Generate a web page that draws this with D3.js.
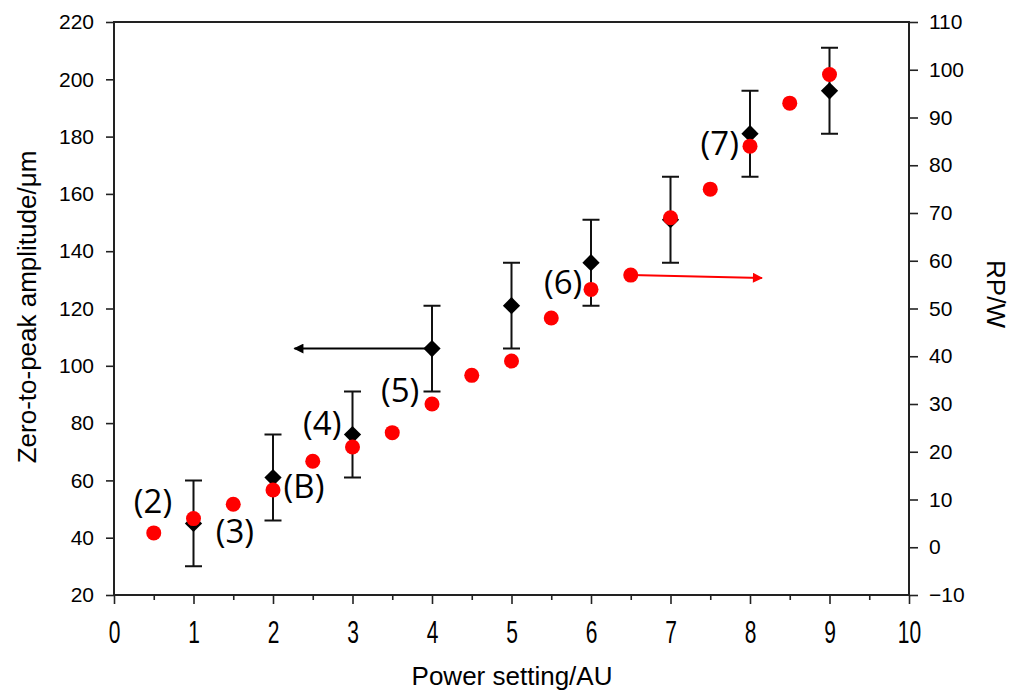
<!DOCTYPE html>
<html>
<head>
<meta charset="utf-8">
<script src="https://cdn.jsdelivr.net/npm/d3@7"></script>
<style>
    body{margin:0;background:#fff;}
    text{fill:#000;}
</style>
</head>
<body>
<div id="graphWrapper"></div>
<script>
//data
const POWER_BLACK = [1, 2, 3, 4, 5, 6, 7, 8, 9];
const AMPLITUDE = [45, 61, 76, 106, 121, 136, 151, 181, 196];
const AMPLITUDE_ERR = [15, 15, 15, 15, 15, 15, 15, 15, 15];

const POWER_RED = [0.5, 1, 1.5, 2, 2.5, 3, 3.5, 4, 4.5, 5, 5.5, 6, 6.5, 7, 7.5, 8, 8.5, 9];
const RPW = [3, 6, 9, 12, 18, 21, 24, 30, 36, 39, 48, 54, 57, 69, 75, 84, 93, 99];

const X_TICKS = [0, 1, 2, 3, 4, 5, 6, 7, 8, 9, 10];
const Y_LEFT_TICKS = [20, 40, 60, 80, 100, 120, 140, 160, 180, 200, 220];
const Y_RIGHT_TICKS = [-10, 0, 10, 20, 30, 40, 50, 60, 70, 80, 90, 100, 110];

//point labels, placed in data units of the left axis (baseline)
const LABEL_TEXT = ['(2)', '(3)', '(B)', '(4)', '(5)', '(6)', '(7)'];
const LABEL_X = [0.49, 1.52, 2.39, 2.62, 3.6, 5.65, 7.62];
const LABEL_Y = [48.6, 38.2, 53.9, 75.8, 87.4, 125.1, 173.6];

//arrows: black in left axis units, red in right axis units
const ARROW_BLACK = [[4, 106], [2.27, 106]];
const ARROW_RED = [[6.5, 57], [8.15, 56.4]];

const CONSTANTS = {
    WIDTH:1017,
    HEIGHT:695,
    LEFT:114,
    RIGHT:909,
    TOP:22,
    BOTTOM:595,
    TICK_FONT:'"Liberation Sans", Arial, sans-serif',
    LABEL_FONT:'"Open Sans", "Noto Sans", sans-serif'
};

function main(){
    let svg = d3.select('#graphWrapper')
        .append('svg')
        .attr('width',CONSTANTS.WIDTH)
        .attr('height',CONSTANTS.HEIGHT);

    let scales = buildScales();
    buildAxis(svg,scales);
    buildArrows(svg,scales);
    buildBlack(svg,scales);
    buildRed(svg,scales);
    buildLabels(svg,scales);
}

function buildScales(){
    let x = d3.scaleLinear().domain([0,10]).range([CONSTANTS.LEFT,CONSTANTS.RIGHT]);
    let yLeft = d3.scaleLinear().domain([20,220]).range([CONSTANTS.BOTTOM,CONSTANTS.TOP]);
    let yRight = d3.scaleLinear().domain([-10,110]).range([CONSTANTS.BOTTOM,CONSTANTS.TOP]);
    return {x:x,yLeft:yLeft,yRight:yRight};
}

function styleAxis(g){
    g.select('.domain').remove();
    g.selectAll('line').attr('stroke','#222').attr('stroke-width',1.6);
    g.selectAll('text')
        .style('font-family',CONSTANTS.TICK_FONT)
        .style('font-size','21px')
        .attr('fill','#000');
}

function buildAxis(svg,scales){
    //minor x ticks
    let minor = d3.range(0.5,10,1);
    svg.append('g')
        .attr('transform','translate(0,'+CONSTANTS.BOTTOM+')')
        .call(d3.axisBottom(scales.x).tickValues(minor).tickSize(5).tickFormat(''))
        .call(styleAxis);

    let xAxis = svg.append('g')
        .attr('id','x-axis')
        .attr('transform','translate(0,'+CONSTANTS.BOTTOM+')')
        .call(d3.axisBottom(scales.x).tickValues(X_TICKS).tickSize(9).tickFormat(d3.format('d')))
        .call(styleAxis);
    //x tick labels are drawn tall in the original
    xAxis.selectAll('text')
        .attr('y',0)
        .attr('dy',0)
        .attr('transform','translate(0,48) scale(1,1.45)');

    svg.append('g')
        .attr('id','y-axis-left')
        .attr('transform','translate('+CONSTANTS.LEFT+',0)')
        .call(d3.axisLeft(scales.yLeft).tickValues(Y_LEFT_TICKS).tickSize(8).tickPadding(12).tickFormat(d3.format('d')))
        .call(styleAxis);

    svg.append('g')
        .attr('id','y-axis-right')
        .attr('transform','translate('+CONSTANTS.RIGHT+',0)')
        .call(d3.axisRight(scales.yRight).tickValues(Y_RIGHT_TICKS).tickSize(9).tickPadding(11).tickFormat(d3.format('d')))
        .call(styleAxis);

    //frame
    svg.append('rect')
        .attr('x',CONSTANTS.LEFT)
        .attr('y',CONSTANTS.TOP)
        .attr('width',CONSTANTS.RIGHT - CONSTANTS.LEFT)
        .attr('height',CONSTANTS.BOTTOM - CONSTANTS.TOP)
        .attr('fill','none')
        .attr('stroke','#222')
        .attr('stroke-width',2);

    //axis titles
    svg.append('text')
        .text('Power setting/AU')
        .attr('x',512)
        .attr('y',685)
        .attr('text-anchor','middle')
        .style('font-family',CONSTANTS.TICK_FONT)
        .style('font-size','26px');

    svg.append('text')
        .text('Zero-to-peak amplitude/μm')
        .attr('transform','translate(36,307) rotate(-90)')
        .attr('text-anchor','middle')
        .style('font-family',CONSTANTS.TICK_FONT)
        .style('font-size','26px');

    svg.append('text')
        .text('RP/W')
        .attr('transform','translate(987,294) rotate(90)')
        .attr('text-anchor','middle')
        .style('font-family',CONSTANTS.TICK_FONT)
        .style('font-size','26px');
}

function buildArrows(svg,scales){
    let defs = svg.append('defs');
    [['arrowBlack','#000'],['arrowRed','#f00']].forEach(function(m){
        defs.append('marker')
            .attr('id',m[0])
            .attr('viewBox','0 0 10 10')
            .attr('refX',9)
            .attr('refY',5)
            .attr('markerWidth',6.5)
            .attr('markerHeight',5)
            .attr('markerUnits','strokeWidth')
            .attr('orient','auto')
            .append('path')
            .attr('d','M0,0 L10,5 L0,10 Z')
            .attr('fill',m[1]);
    });

    svg.append('line')
        .attr('x1',scales.x(ARROW_BLACK[0][0]))
        .attr('y1',scales.yLeft(ARROW_BLACK[0][1]))
        .attr('x2',scales.x(ARROW_BLACK[1][0]))
        .attr('y2',scales.yLeft(ARROW_BLACK[1][1]))
        .attr('stroke','#000')
        .attr('stroke-width',2)
        .attr('marker-end','url(#arrowBlack)');

    svg.append('line')
        .attr('x1',scales.x(ARROW_RED[0][0]))
        .attr('y1',scales.yRight(ARROW_RED[0][1]))
        .attr('x2',scales.x(ARROW_RED[1][0]))
        .attr('y2',scales.yRight(ARROW_RED[1][1]))
        .attr('stroke','#f00')
        .attr('stroke-width',2)
        .attr('marker-end','url(#arrowRed)');
}

function buildBlack(svg,scales){
    let capHalf = 8.5;
    let g = svg.append('g').attr('id','black-series');
    let pts = POWER_BLACK.map((p,i)=>({x:p,y:AMPLITUDE[i],e:AMPLITUDE_ERR[i]}));

    g.selectAll('.err')
        .data(pts)
        .enter()
        .append('path')
        .attr('class','err')
        .attr('d',function(d){
            let cx = scales.x(d.x);
            let top = scales.yLeft(d.y + d.e);
            let bot = scales.yLeft(d.y - d.e);
            return 'M'+cx+','+top+' L'+cx+','+bot+
                ' M'+(cx-capHalf)+','+top+' L'+(cx+capHalf)+','+top+
                ' M'+(cx-capHalf)+','+bot+' L'+(cx+capHalf)+','+bot;
        })
        .attr('stroke','#111')
        .attr('stroke-width',2)
        .attr('fill','none');

    g.selectAll('.diamond')
        .data(pts)
        .enter()
        .append('path')
        .attr('class','diamond')
        .attr('d',d3.symbol().type(d3.symbolDiamond2).size(190))
        .attr('transform',d=>'translate('+scales.x(d.x)+','+scales.yLeft(d.y)+')')
        .attr('fill','#000');
}

function buildRed(svg,scales){
    svg.append('g')
        .attr('id','red-series')
        .selectAll('circle')
        .data(POWER_RED.map((p,i)=>({x:p,y:RPW[i]})))
        .enter()
        .append('circle')
        .attr('cx',d=>scales.x(d.x))
        .attr('cy',d=>scales.yRight(d.y))
        .attr('r',7.5)
        .attr('fill','#f00');
}

function buildLabels(svg,scales){
    svg.append('g')
        .attr('id','labels')
        .selectAll('text')
        .data(LABEL_TEXT)
        .enter()
        .append('text')
        .text(d=>d)
        .attr('x',(d,i)=>scales.x(LABEL_X[i]))
        .attr('y',(d,i)=>scales.yLeft(LABEL_Y[i]))
        .attr('text-anchor','middle')
        .style('font-family',CONSTANTS.LABEL_FONT)
        .style('font-size','33px');
}

main();
</script>
</body>
</html>
